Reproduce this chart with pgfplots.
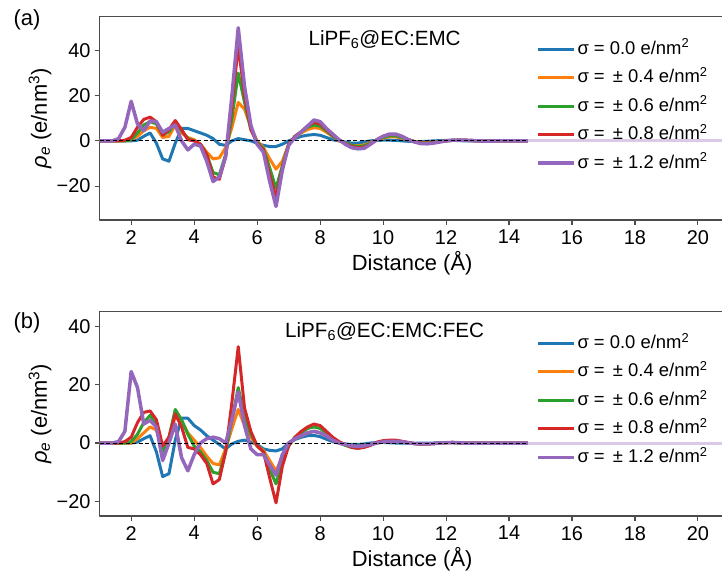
\documentclass[border=0pt]{standalone}
\usepackage{fontspec}
\setmainfont{Liberation Sans}
\usepackage{pgfplots}
\pgfplotsset{compat=1.18}
\usepackage{pgfplotstable}

\definecolor{cb}{HTML}{1F77B4}
\definecolor{co}{HTML}{FF7F0E}
\definecolor{cg}{HTML}{2CA02C}
\definecolor{cr}{HTML}{D62728}
\definecolor{cp}{HTML}{9467BD}

% x: distance, b o g r p: sigma = 0.0, 0.4, 0.6, 0.8, 1.2
\pgfplotstableread{
x b o g r p
1.0 0 0 0 0 0
1.2 0 0 0 0 0
1.4 0 0 0 0 0
1.6 0 0 0 0 1
1.8 0 0 0 0.3 6
2.0 0 0.5 0.5 1.5 17.5
2.2 0.3 2 3.5 6 7.5
2.4 2 4.5 7 9.5 4.5
2.6 3.5 6 8.5 10.5 8.8
2.8 -1 5.5 7.5 8.5 8.5
3.0 -8 1.5 2.5 2.5 3.8
3.2 -9 2 4 5 5.5
3.4 -1 7 8 9 7
3.6 5.5 3.5 4.5 5 0
3.8 5.5 1.5 1 0.5 -4
4.0 4.5 0.5 0 0 -1.5
4.2 3.5 -1.5 -1.5 -1.5 -2.2
4.4 2.5 -5 -6 -6 -9
4.6 1 -8 -14 -16 -18
4.8 -1.5 -7.5 -15 -17 -16
5.0 -2 -3 -6 -7 -7
5.2 0 6 10 15 20
5.4 1 17 30 42 50
5.6 0.5 14 17 20 24
5.8 0 6 5 5 7
6.0 -1 0 -0.5 -1 -1.5
6.2 -2 -3 -3.5 -4 -5
6.4 -2.5 -8 -12 -15 -18
6.6 -2.5 -12.5 -21 -25 -29
6.8 -1.5 -9 -11 -12 -13
7.0 0 -1.5 -1.5 -1.5 -2
7.2 1 1.5 2 2 1.5
7.4 2 3.5 4 4 4
7.6 2.5 5 6 6.5 6.5
7.8 2.8 5.8 7 8.2 9.2
8.0 2.5 5.5 6.5 7.5 8.5
8.2 1.5 3.8 4.5 5 5.5
8.4 0.5 2 2 2.5 3
8.6 0 0 0.3 0.5 0.5
8.8 -0.5 -1 -1 -1.2 -1.5
9.0 -1 -2 -2 -2.5 -3
9.2 -1 -2.2 -2.5 -3 -3.5
9.4 -0.5 -1.8 -2.2 -2.8 -3.3
9.6 0 -0.8 -1 -1.3 -1.5
9.8 0.2 0.3 0.3 0.5 0.5
10.0 0.3 1.2 1.5 2 2
10.2 0.3 1.8 2.2 2.8 3
10.4 0.2 1.8 2.2 2.8 3
10.6 0 1.2 1.5 2 2
10.8 -0.2 0.4 0.5 0.6 0.5
11.0 -0.3 -0.3 -0.3 -0.4 -0.5
11.2 -0.3 -0.7 -0.8 -1 -1.2
11.4 -0.2 -0.8 -0.9 -1 -1.3
11.6 0 -0.6 -0.7 -0.8 -1
11.8 0.1 -0.3 -0.3 -0.4 -0.5
12.0 0.2 0 0 0 0
12.2 0.2 0.2 0.2 0.2 0.3
12.4 0.1 0.3 0.3 0.3 0.3
12.6 0 0.2 0.2 0.3 0.3
12.8 0 0.1 0.1 0.2 0.2
13.0 0 0 0 0 0
13.2 0 -0.1 -0.1 -0.1 -0.1
13.4 0 -0.1 -0.1 -0.1 -0.1
13.6 0 0 0 0 0
13.8 0 0 0 0 0
14.0 0 0 0 0 0
14.2 0 0 0 0 0
14.4 0 0 0 0 0
14.6 0 0 0 0 0
}\topdata

\pgfplotstableread{
x b o g r p
1.0 0 0 0 0 0
1.2 0 0 0 0 0
1.4 0 0 0 0 0
1.6 0 0 0 0 0.5
1.8 0 0 0 0.5 4
2.0 0 0 0.5 2 24.5
2.2 0.3 1.5 3 7 19
2.4 1.5 3.5 7 10.5 6.5
2.6 2.5 5.5 9.5 11 7.8
2.8 -3 4.5 6 8 5.5
3.0 -11.5 -2 -3 -1 -6
3.2 -10.5 2 2 2 0
3.4 1 9 11.5 10 6.5
3.6 8.5 7.5 8 5.5 -5
3.8 8.5 3.5 3 -1.5 -9.5
4.0 6 1 -1 -2 -4
4.2 4.5 -1.5 -3 -4 0
4.4 2.5 -4.5 -6 -7 1.5
4.6 1 -7 -10 -14 2
4.8 -0.5 -7.5 -10.5 -12.5 1.5
5.0 -2 -2 -3 -3 0
5.2 -0.3 5 8 14 8
5.4 0.6 11.5 19 33 17.5
5.6 1 6 9 12 6
5.8 0.3 2 3 4 -2
6.0 -0.5 -1 -1 -1 -4
6.2 -2 -2.5 -3 -3 -4
6.4 -2.5 -6 -9 -12 -7.5
6.6 -2.7 -9.5 -14 -20.5 -11
6.8 -2 -5 -6 -8 -4
7.0 0 -0.5 -1 -1 0
7.2 1.2 1.5 2 2 1.5
7.4 2 2.5 3.5 4 2.5
7.6 2.5 3.5 5 5.5 3.5
7.8 2.6 4 5.5 6.5 4
8.0 2.2 3.5 5 6 3.5
8.2 1.3 2.5 3.5 4 2.5
8.4 0.5 1 1.5 2 1
8.6 0 0 0 0.5 0
8.8 -0.3 -0.5 -0.8 -0.5 -0.5
9.0 -0.5 -1 -1.5 -1.5 -1
9.2 -0.5 -1.2 -1.8 -1.8 -1.2
9.4 -0.3 -1 -1.3 -1.5 -1
9.6 0 -0.5 -0.6 -0.8 -0.5
9.8 0.2 0 0 0.3 0
10.0 0.2 0.4 0.6 0.8 0.4
10.2 0.1 0.6 0.8 1 0.6
10.4 0 0.6 0.8 1 0.6
10.6 0 0.4 0.5 0.6 0.4
10.8 -0.1 0.1 0.1 0.2 0.1
11.0 -0.1 -0.2 -0.2 -0.2 -0.2
11.2 0 -0.3 -0.3 -0.4 -0.3
11.4 0 -0.3 -0.3 -0.3 -0.3
11.6 0 -0.2 -0.2 -0.2 -0.2
11.8 0.1 0 0 0 0
12.0 0.1 0.1 0.1 0.1 0.1
12.2 0.1 0.2 0.2 0.2 0.2
12.4 0 0.1 0.1 0.1 0.1
12.6 0 0 0 0 0
12.8 0 0 0 0 0
13.0 0 0 0 0 0
13.2 0 0 0 0 0
13.4 0 0 0 0 0
13.6 0 0 0 0 0
13.8 0 0 0 0 0
14.0 0 0 0 0 0
14.2 0 0 0 0 0
14.4 0 0 0 0 0
14.6 0 0 0 0 0
}\botdata

\pgfplotsset{
  panel/.style={
    scale only axis, width=625bp, anchor=south west,
    xmin=1, xmax=20.85,
    xtick={2,4,6,8,10,12,14,16,18,20},
    xticklabels={2,4,6,8,10,12,14,16,18,20},
    ytick={-20,0,20,40},
    yticklabels={−20,0,20,40},
    tick align=outside, tick pos=left,
    major tick length=5bp,
    axis line style={draw=black!70, line width=1.1bp},
    every tick/.style={draw=black!70, line width=1.1bp},
    tick label style={font=\fontsize{20}{24}\selectfont},
    xticklabel style={inner sep=0pt, anchor=north, yshift=-5bp},
    yticklabel style={inner sep=0pt, anchor=east, xshift=-4bp},
    label style={font=\fontsize{22}{26}\selectfont},
    xlabel={Distance (Å)},
    xlabel style={at={(axis description cs:0.5,-0.21)}, anchor=center},
    ylabel={\textit{ρ}\textsubscript{\textit{e}} (e/nm\textsuperscript{3})},
    ylabel style={at={(axis description cs:-0.0955,0.5)}, anchor=center},
    legend cell align=left,
    legend image code/.code={\draw[##1] (0bp,0bp) -- (36bp,0bp);},
    legend style={draw=none, fill=none, anchor=north west,
      font=\fontsize{18.5}{22}\selectfont, row sep=6.5bp,
      nodes={inner sep=2bp, text height=14bp, text depth=4bp}},
    line join=round,
  },
  s0/.style={cb, line width=3bp},
  s1/.style={co, line width=3bp},
  s2/.style={cg, line width=3bp},
  s3/.style={cr, line width=3bp},
  s4/.style={cp, line width=3.5bp},
}

\newcommand{\curves}[1]{%
  \addplot[s0] table[x=x,y=b]{#1}; \addlegendentry{σ = 0.0 e/nm\textsuperscript{2}}
  \addplot[s1] table[x=x,y=o]{#1}; \addlegendentry{σ = \,± 0.4 e/nm\textsuperscript{2}}
  \addplot[s2] table[x=x,y=g]{#1}; \addlegendentry{σ = \,± 0.6 e/nm\textsuperscript{2}}
  \addplot[s3] table[x=x,y=r]{#1}; \addlegendentry{σ = \,± 0.8 e/nm\textsuperscript{2}}
  \addplot[s4] table[x=x,y=p]{#1}; \addlegendentry{σ = \,± 1.2 e/nm\textsuperscript{2}}
  \addplot[cp!35, line width=3bp, forget plot] coordinates {(14.6,0) (21,0)};
  \addplot[black, line width=0.9bp, dash pattern=on 4bp off 2.5bp, forget plot] coordinates {(1,0) (14.6,0)};
}

\begin{document}
\begin{tikzpicture}
\useasboundingbox (0,0) rectangle (722bp,578bp);

\begin{axis}[panel, at={(99.7bp,358bp)}, height=203.5bp,
  ymin=-35, ymax=55,
  legend style={at={(axis description cs:0.693,0.905)}}]
\curves{\topdata}
\node[anchor=west, font=\fontsize{20.7}{24}\selectfont] at (axis description cs:0.3285,0.885) {LiPF\textsubscript{6}@EC:EMC};
\end{axis}

\begin{axis}[panel, at={(99.7bp,62bp)}, height=204.3bp,
  ymin=-25, ymax=45,
  legend style={at={(axis description cs:0.693,0.91)}}]
\curves{\botdata}
\node[anchor=west, font=\fontsize{20.7}{24}\selectfont] at (axis description cs:0.291,0.902) {LiPF\textsubscript{6}@EC:EMC:FEC};
\end{axis}

\node[anchor=west, font=\fontsize{22}{26}\selectfont] at (10bp,558bp) {(a)};
\node[anchor=west, font=\fontsize{22}{26}\selectfont] at (10bp,255bp) {(b)};
\end{tikzpicture}
\end{document}
